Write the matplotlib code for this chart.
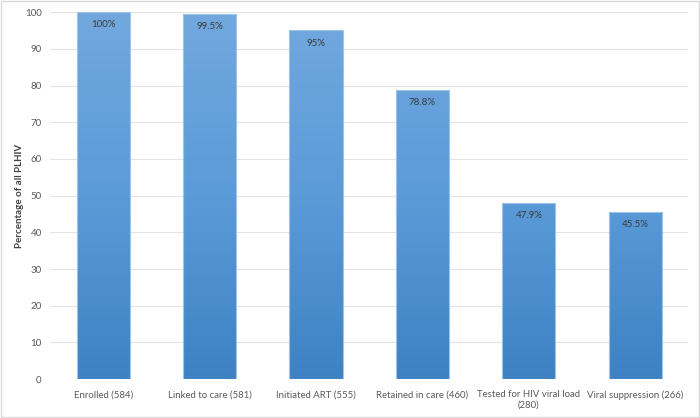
import numpy as np
import matplotlib.pyplot as plt
from matplotlib.colors import LinearSegmentedColormap
from matplotlib.patches import Rectangle

plt.rcParams['font.family'] = ['Lato', 'DejaVu Sans']

categories = ['Enrolled (584)', 'Linked to care (581)', 'Initiated ART (555)',
              'Retained in care (460)', 'Tested for HIV viral load\n(280)',
              'Viral suppression (266)']
values = [100, 99.5, 95, 78.8, 47.9, 45.5]
labels = ['100%', '99.5%', '95%', '78.8%', '47.9%', '45.5%']

fig = plt.figure(figsize=(7, 4.18), dpi=100)
ax = fig.add_axes([0.0714, 0.093, 0.912, 0.878])

# outer frame
fig.patches.append(Rectangle((0.002, 0.003), 0.996, 0.994, transform=fig.transFigure,
                             fill=False, edgecolor='#d9d9d9', linewidth=1))

x = np.arange(len(categories))
width = 0.5
bars = ax.bar(x, values, width=width, color='none', edgecolor='#9cc3ea',
              linewidth=0.8, zorder=3)

cmap = LinearSegmentedColormap.from_list('grad', ['#3e82c4', '#5b9bd8', '#72a8de'])
grad = np.linspace(0, 1, 256).reshape(-1, 1)
for b in bars:
    im = ax.imshow(grad, cmap=cmap, aspect='auto', origin='lower',
                   extent=[b.get_x(), b.get_x() + b.get_width(), 0, 100],
                   zorder=2)
    im.set_clip_path(b)

for xi, v, lab in zip(x, values, labels):
    ax.text(xi, v - 2.2, lab, ha='center', va='top', fontsize=7,
            color='#3a3a3a', zorder=4)

ax.set_xlim(-0.5, len(categories) - 0.5)
ax.set_ylim(0, 100)
ax.set_yticks(range(0, 101, 10))
ax.set_xticks(x)
ax.set_xticklabels(categories, fontsize=6.9, color='#595959')
ax.tick_params(axis='y', labelsize=7, labelcolor='#595959', length=0, pad=6)
ax.tick_params(axis='x', length=0, pad=8)
ax.grid(axis='y', color='#e3e3e3', linewidth=0.8, zorder=0)
ax.set_axisbelow(True)
for s in ax.spines.values():
    s.set_visible(False)
ax.set_ylabel('Percentage of all PLHIV', fontsize=7, color='#404040',
              fontweight='bold', labelpad=1)

fig.savefig('out.png', dpi=100)
